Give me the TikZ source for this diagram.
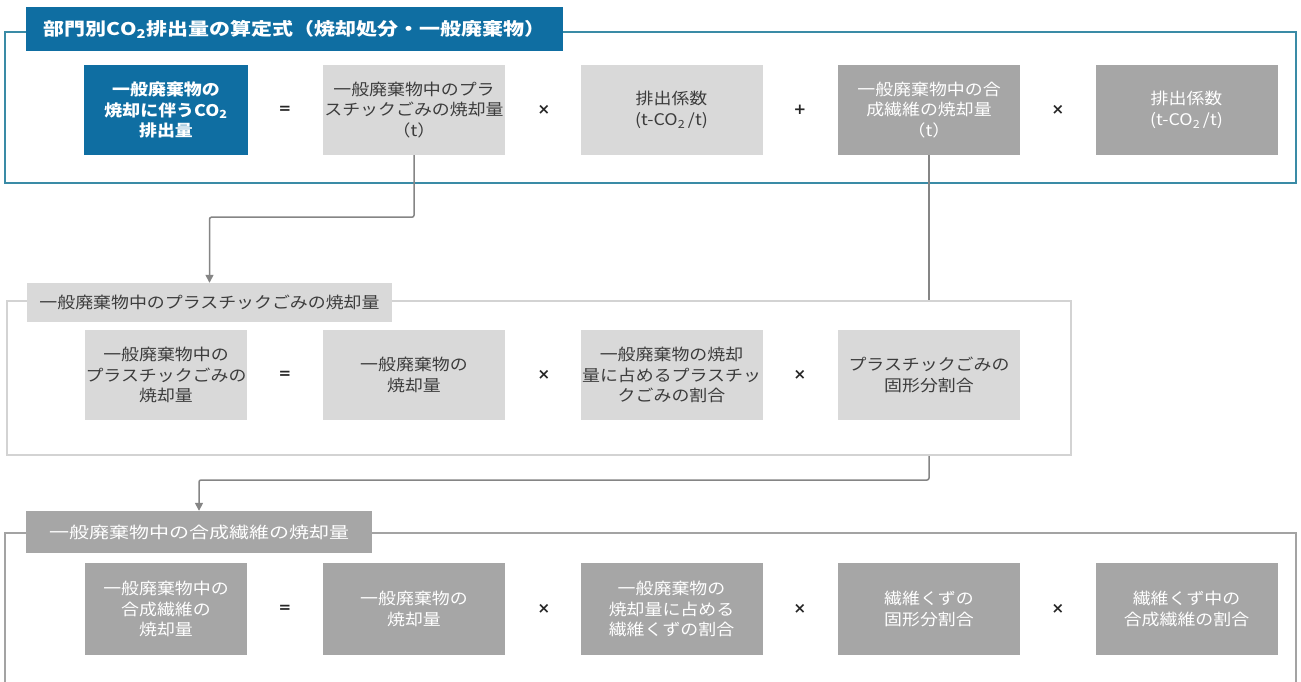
\documentclass[tikz,border=0pt]{standalone}
\usepackage{fontspec}
\newfontfamily\jp[FakeStretch=1.12]{Noto Sans CJK JP}
\newfontfamily\jpwide[FakeStretch=1.2]{Noto Sans CJK JP}
\newfontfamily\jpwider[FakeStretch=1.25]{Noto Sans CJK JP}
\newfontfamily\opfont{DejaVu Sans}
\usetikzlibrary{arrows.meta}
\definecolor{cblue}{HTML}{0F6EA2}
\definecolor{cframe}{HTML}{3A8BA6}
\definecolor{clight}{HTML}{D9D9D9}
\definecolor{cdark}{HTML}{A6A6A6}
\definecolor{ctxt}{HTML}{3C3C3C}
\definecolor{cline}{HTML}{858585}
\definecolor{cframetwo}{HTML}{D3D3D3}
\definecolor{cframethree}{HTML}{A3A3A3}
\begin{document}
\begin{tikzpicture}[x=1pt,y=-1pt,
 base/.style={inner sep=0pt, align=center, font=\jp\fontsize{16}{20.5}\selectfont},
 bluebox/.style={base, fill=cblue, text=white, minimum height=90pt, font=\jp\bfseries\fontsize{16}{20.5}\selectfont},
 lightbox/.style={base, fill=clight, text=ctxt, minimum width=182pt, minimum height=90pt},
 darkbox/.style={base, fill=cdark, text=white, minimum width=182pt, minimum height=90pt},
 op/.style={inner sep=0pt, text=black!85, font=\opfont\bfseries\fontsize{15}{15}\selectfont},
 conn/.style={draw=cline, line width=1.5pt, rounded corners=2pt},
 arr/.style={conn, -{Triangle[length=8pt,width=8pt]}},
 frameone/.style={draw=cframe, line width=2.2pt, fill=white, inner sep=0pt},
 frametwo/.style={draw=cframetwo, line width=2pt, fill=white, inner sep=0pt},
 framethree/.style={draw=cframethree, line width=2pt},
 titleone/.style={base, fill=cblue, text=white, font=\jpwide\bfseries\fontsize{17.5}{20}\selectfont},
 titletwo/.style={base, fill=clight, text=ctxt},
 titlethree/.style={base, fill=cdark, text=white, font=\jpwider\fontsize{16}{20}\selectfont},
]
\useasboundingbox[fill=white] (0,0) rectangle (1301,682);

% ---------- frames ----------
\node[frameone, minimum width=1291pt, minimum height=151pt] (f1) at (650.5,107.5) {};
\node[frametwo, minimum width=1064pt, minimum height=154pt] (f2) at (539,378) {};
\draw[framethree] (5,682) -- (5,533) -- (1296,533) -- (1296,682);

% ---------- titles ----------
\node[titleone, minimum width=537pt, minimum height=44pt] (t1) at (294.5,29) {部門別CO\textsubscript{2}排出量の算定式（焼却処分・一般廃棄物）};
\node[titletwo, minimum width=365pt, minimum height=39pt] (t2) at (209.5,302.5) {一般廃棄物中のプラスチックごみの焼却量};
\node[titlethree, minimum width=346pt, minimum height=42pt] (t3) at (199,532) {一般廃棄物中の合成繊維の焼却量};

% ---------- top row ----------
\node[bluebox, minimum width=164pt] (a1) at (166,110) {一般廃棄物の\\焼却に伴うCO\textsubscript{2}\\排出量};
\node[op] (a1e) at (285,110) {=};
\node[lightbox] (a2) at (414,110) {一般廃棄物中のプラ\\スチックごみの焼却量\\（t）};
\node[op] (a2m) at (544,110) {×};
\node[lightbox] (a3) at (671.5,110) {排出係数\\(t-CO\textsubscript{2}\,/t)};
\node[op] (a3p) at (800,110) {+};
\node[darkbox] (a4) at (929,110) {一般廃棄物中の合\\成繊維の焼却量\\（t）};
\node[op] (a4m) at (1058,110) {×};
\node[darkbox] (a5) at (1186.5,110) {排出係数\\(t-CO\textsubscript{2}\,/t)};

% ---------- middle row ----------
\node[lightbox, minimum width=162pt] (b1) at (166,375) {一般廃棄物中の\\プラスチックごみの\\焼却量};
\node[op] (b1e) at (285,375) {=};
\node[lightbox] (b2) at (414,375) {一般廃棄物の\\焼却量};
\node[op] (b2m) at (544,375) {×};
\node[lightbox] (b3) at (671.5,375) {一般廃棄物の焼却\\量に占めるプラスチッ\\クごみの割合};
\node[op] (b3m) at (800,375) {×};
\node[lightbox] (b4) at (929,375) {プラスチックごみの\\固形分割合};

% ---------- bottom row ----------
\node[darkbox, minimum width=162pt, minimum height=92pt] (c1) at (166,609) {一般廃棄物中の\\合成繊維の\\焼却量};
\node[op] (c1e) at (285,609) {=};
\node[darkbox, minimum height=92pt] (c2) at (414,609) {一般廃棄物の\\焼却量};
\node[op] (c2m) at (544,609) {×};
\node[darkbox, minimum height=92pt] (c3) at (671.5,609) {一般廃棄物の\\焼却量に占める\\繊維くずの割合};
\node[op] (c3m) at (800,609) {×};
\node[darkbox, minimum height=92pt] (c4) at (929,609) {繊維くずの\\固形分割合};
\node[op] (c4m) at (1058,609) {×};
\node[darkbox, minimum height=92pt] (c5) at (1186.5,609) {繊維くず中の\\合成繊維の割合};

% ---------- connectors ----------
\draw[arr] (a2.south) -- ++(0,62) -| (t2.north);
\draw[conn] (a4.south) -- (a4.south |- f2.north);
\coordinate (k2) at (929,480);
\draw[arr] (a4.south |- f2.south) -- (k2) -| (t3.north);
\end{tikzpicture}
\end{document}
